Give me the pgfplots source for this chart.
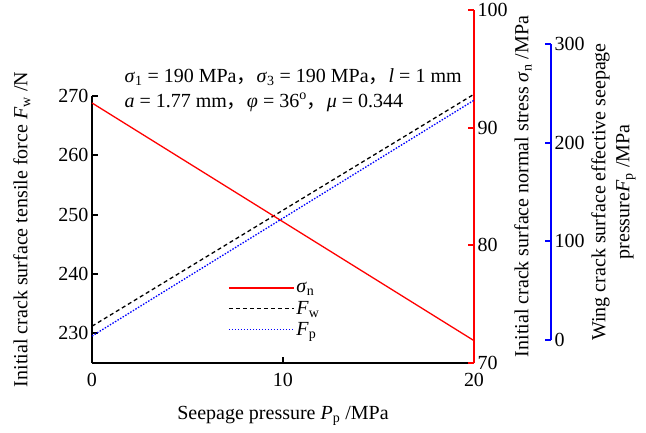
\documentclass[border=0pt]{standalone}
\usepackage{fontspec}
\setmainfont{Liberation Serif}
\newfontfamily\cjk{Noto Sans CJK SC}
\usepackage{pgfplots}
\pgfplotsset{compat=1.18}
\newcommand{\fs}{\fontsize{20}{24}\selectfont}
\pgfplotsset{
  base/.style={
    scale only axis, width=382pt, xmin=0, xmax=20,
    /pgf/number format/assume math mode=true,
    tick label style={font=\fs, black},
    label style={font=\fs},
    tick align=inside, major tick length=6pt,
    axis line style={line width=1.8pt,-},
    every tick/.style={line width=1.8pt},
    clip=false,
  },
}
\begin{document}
\begin{tikzpicture}
\useasboundingbox (0,0) rectangle (646pt,432pt);
% left axis (F_w)
\begin{axis}[base, height=267pt, at={(92pt,69pt)}, anchor=south west,
  ymin=225, ymax=270,
  axis x line*=bottom, axis y line*=left,
  xtick={0,10,20}, ytick={230,240,250,260,270},
  every tick/.style={black,line width=1.8pt},
  xticklabel style={yshift=-7pt},
  ylabel={Initial crack surface tensile force \textit{F}\textsubscript{w} /N},
  xlabel={Seepage pressure \textit{P}\textsubscript{p} /MPa},
  ylabel style={yshift=21pt},
  xlabel style={yshift=-12pt}]
\addplot[black, line width=1.3pt, dash pattern=on 4pt off 3pt] coordinates {(0,231.2) (20,270.3)};
\end{axis}
% red axis (sigma_n)
\begin{axis}[base, height=353pt, at={(92pt,69pt)}, anchor=south west,
  ymin=70, ymax=100,
  axis y line*=right, axis x line=none,
  ytick={70,80,90,100},
  y axis line style={red, line width=1.8pt},
  every tick/.style={red,line width=1.8pt},
  ylabel={Initial crack surface normal stress \textit{σ}\textsubscript{n} /MPa},
  legend style={at={(rel axis cs:0.348,0.241)}, anchor=north west, draw=none, fill=none, font=\fs, row sep=3pt},
  legend cell align=left]
\addplot[red, line width=1.3pt, forget plot] coordinates {(0,92.1) (20,71.9)};
\addlegendimage{legend image code/.code={\draw[red, line width=1.3pt] (0pt,0pt) -- (65pt,0pt);}}
\addlegendentry{\textit{σ}\textsubscript{n}}
\addlegendimage{legend image code/.code={\draw[black, line width=1.3pt, dash pattern=on 4pt off 3pt] (0pt,0pt) -- (65pt,0pt);}}
\addlegendentry{\textit{F}\textsubscript{w}}
\addlegendimage{legend image code/.code={\draw[blue, line width=1.3pt, dash pattern=on 1.5pt off 1.5pt] (0pt,0pt) -- (65pt,0pt);}}
\addlegendentry{\textit{F}\textsubscript{p}}
\node[anchor=base west, font=\fs] at (rel axis cs:0.076,0.796)
  {\textit{σ}\textsubscript{1} = 190 MPa{\cjk ，}\textit{σ}\textsubscript{3} = 190 MPa{\cjk ，}\textit{l} = 1 mm};
\node[anchor=base west, font=\fs] at (rel axis cs:0.076,0.725)
  {\textit{a} = 1.77 mm{\cjk ，}\textit{φ} = 36\textsuperscript{o}{\cjk ，}\textit{μ} = 0.344};
\end{axis}
% blue axis (F_p)
\begin{axis}[base, width=459pt, xmax=24.03, height=296pt, at={(92pt,92pt)}, anchor=south west,
  ymin=0, ymax=300,
  axis y line*=right, axis x line=none,
  ytick={0,100,200,300},
  y axis line style={blue, line width=1.8pt},
  every tick/.style={blue,line width=1.8pt},
  ylabel={Wing crack surface effective seepage\\pressure\textit{F}\textsubscript{p} /MPa},
  ylabel style={align=center}]
\addplot[blue, line width=1.3pt, dash pattern=on 1.5pt off 1.5pt] coordinates {(0,4) (20,243)};
\end{axis}
\end{tikzpicture}
\end{document}
